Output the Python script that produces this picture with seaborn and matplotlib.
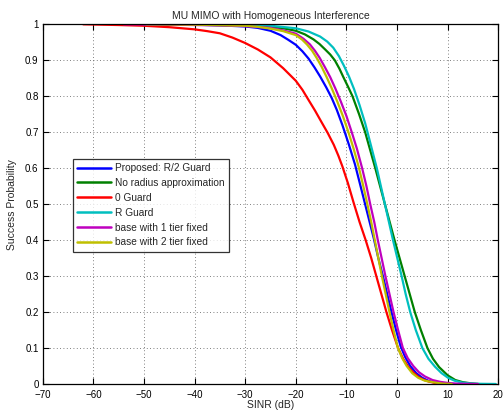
import pandas as pd
import numpy as np
import matplotlib
matplotlib.use("Agg")
import matplotlib.pyplot as plt
import seaborn as sns

# values
blue_x = [-50, -40, -35, -30, -27.5, -25, -23, -21.5, -20, -18.7, -17.5, -16.3, -15.2, -14, -12.9, -11.9, -10.8,
          -9.5, -8.3, -7.3, -6.4, -5.5, -4.6, -3.7, -2.8, -1.95, -1.1, -0.2, 0.7, 1.6, 2.6, 3.8, 5, 6.3, 7.8, 9.5]
blue_y = [1.0, 0.999, 0.997, 0.994, 0.99, 0.982, 0.97, 0.957, 0.943, 0.925, 0.905, 0.88, 0.855, 0.825, 0.795, 0.762, 0.72,
          0.665, 0.61, 0.555, 0.505, 0.455, 0.405, 0.35, 0.3, 0.25, 0.2, 0.15, 0.105, 0.075, 0.05, 0.03, 0.017, 0.008, 0.003, 0.0]

green_x = [-50, -40, -30, -25, -22.5, -20, -18.2, -16.5, -15.3, -14.2, -13.2, -12.3, -11.4, -10.6, -9.7, -8.8, -7.5,
           -6.3, -5.3, -4.3, -3.35, -2.4, -1.45, -0.5, 0.5, 1.5, 2.5, 3.5, 4.7, 6.0, 7.1, 8.3, 10, 11.5, 13, 14.5, 16]
green_y = [1.0, 0.999, 0.997, 0.993, 0.989, 0.982, 0.972, 0.958, 0.945, 0.93, 0.916, 0.9, 0.877, 0.853, 0.827, 0.8, 0.75,
           0.7, 0.65, 0.6, 0.55, 0.5, 0.45, 0.4, 0.35, 0.3, 0.25, 0.2, 0.15, 0.1, 0.07, 0.047, 0.024, 0.011, 0.005, 0.002, 0.0]

red_x = [-62, -55, -50, -45, -40, -37.5, -35, -32.5, -30, -27.5, -25, -22.5, -20, -18.7, -17.5, -16.2, -15, -13.7,
         -12.5, -11.6, -10.8, -9.7, -8.6, -7.4, -6.2, -5.1, -4.1, -3.1, -2.1, -1.0, 0.2, 1.2, 2.2, 3.2, 4.2, 5.2, 6.2, 7.5, 8.8]
red_y = [1.0, 0.998, 0.996, 0.992, 0.986, 0.981, 0.975, 0.963, 0.948, 0.93, 0.908, 0.878, 0.843, 0.818, 0.79, 0.76, 0.73, 0.698,
         0.665, 0.635, 0.605, 0.558, 0.505, 0.45, 0.4, 0.35, 0.3, 0.25, 0.2, 0.15, 0.1, 0.07, 0.048, 0.032, 0.02, 0.012, 0.007, 0.003, 0.0]

cyan_x = [-50, -40, -30, -25, -20, -17.5, -15.2, -13.8, -12.6, -11.5, -10.5, -9.5, -8.5, -7.4, -6.3, -5.1, -4.0, -3.2,
          -2.4, -1.6, -0.8, 0.05, 0.9, 1.7, 2.6, 3.7, 5.0, 6.2, 7.5, 8.8, 10.1, 11.4, 12.8, 14.5, 16.5, 19.5]
cyan_y = [1.0, 0.999, 0.998, 0.996, 0.989, 0.98, 0.966, 0.952, 0.935, 0.912, 0.885, 0.855, 0.82, 0.775, 0.725, 0.66, 0.6, 0.55,
          0.5, 0.45, 0.4, 0.35, 0.3, 0.25, 0.2, 0.15, 0.1, 0.07, 0.048, 0.03, 0.017, 0.009, 0.004, 0.0015, 0.0005, 0.0]

magenta_x = [-54, -45, -35, -30, -25, -22.5, -20, -18.5, -17.2, -16.2, -15.3, -14.3, -13.2, -12.2, -11.1, -10.0, -8.95,
             -7.95, -6.9, -6.05, -5.3, -4.5, -3.8, -3.05, -2.3, -1.5, -0.7, 0.2, 1.15, 2.1, 3.2, 4.3, 5.5, 7, 8.5, 10, 11.8, 16]
magenta_y = [1.0, 0.999, 0.997, 0.995, 0.99, 0.983, 0.974, 0.96, 0.944, 0.926, 0.907, 0.882, 0.853, 0.822, 0.785, 0.745, 0.7,
             0.655, 0.6, 0.55, 0.5, 0.45, 0.4, 0.35, 0.3, 0.25, 0.2, 0.15, 0.1, 0.072, 0.05, 0.033, 0.021, 0.011, 0.006, 0.003, 0.001, 0.0]

yellow_x = [-49.5, -40, -30, -27.5, -25, -22.5, -20, -18.8, -17.8, -16.8, -15.9, -14.9, -13.9, -12.9, -11.8, -10.7,
            -9.6, -8.6, -7.6, -6.7, -5.9, -5.1, -4.4, -3.7, -3.0, -2.25, -1.5, -0.7, 0.1, 1.0, 1.9, 3.0, 4.2, 5.5, 7.5, 9, 10.8]
yellow_y = [1.0, 0.999, 0.996, 0.993, 0.988, 0.981, 0.97, 0.958, 0.944, 0.927, 0.907, 0.882, 0.853, 0.822, 0.785, 0.745,
            0.7, 0.655, 0.605, 0.552, 0.502, 0.45, 0.4, 0.35, 0.3, 0.25, 0.2, 0.15, 0.103, 0.072, 0.05, 0.03, 0.017, 0.009, 0.004, 0.001, 0.0]

labels = ["Proposed: R/2 Guard", "No radius approximation", "0 Guard", "R Guard",
          "base with 1 tier fixed", "base with 2 tier fixed"]
colors = [(0, 0, 1), (0, 0.5, 0), (1, 0, 0), (0, 0.75, 0.75), (0.75, 0, 0.75), (0.75, 0.75, 0)]
xs = [blue_x, green_x, red_x, cyan_x, magenta_x, yellow_x]
ys = [blue_y, green_y, red_y, cyan_y, magenta_y, yellow_y]

frames = []
for lab, x, y in zip(labels, xs, ys):
    frames.append(pd.DataFrame({"sinr": x, "p": y, "curve": lab}))
df = pd.concat(frames, ignore_index=True)

sns.set_style("ticks")
plt.rcParams["font.family"] = ["Liberation Sans", "DejaVu Sans"]
plt.rcParams["axes.unicode_minus"] = True

fig = plt.figure(figsize=(5.04, 4.12), dpi=100)
ax = fig.add_axes([0.0847, 0.068, 0.904, 0.873])

sns.lineplot(data=df, x="sinr", y="p", hue="curve", hue_order=labels,
             palette=colors, estimator=None, sort=False, linewidth=1.6, ax=ax)

ax.set_xlim(-70, 20)
ax.set_ylim(0, 1)
ax.set_xticks(np.arange(-70, 21, 10))
ax.set_yticks(np.arange(0, 1.01, 0.1))
ax.set_yticklabels(["0", "0.1", "0.2", "0.3", "0.4", "0.5", "0.6", "0.7", "0.8", "0.9", "1"])
ax.grid(True, linestyle=(0, (1, 3)), color="#555555", linewidth=0.6)
ax.tick_params(direction="in", length=4, width=0.8, top=True, right=True,
               labelsize=7, colors="black")
ax.tick_params(axis="x", pad=4)
ax.tick_params(axis="y", pad=3)
for s in ax.spines.values():
    s.set_linewidth(0.9)
    s.set_color("black")

ax.set_title("MU MIMO with Homogeneous Interference", fontsize=7.5, pad=4)
ax.set_xlabel("SINR (dB)", fontsize=7.5, labelpad=0)
ax.set_ylabel("Success Probability", fontsize=7.5, labelpad=6)

leg = ax.legend(loc="lower left", bbox_to_anchor=(0.066, 0.367), fontsize=7.3,
                frameon=True, fancybox=False, handlelength=3.3, handletextpad=0.4,
                labelspacing=0.48, borderpad=0.45, borderaxespad=0)
leg.get_frame().set_edgecolor("black")
leg.get_frame().set_linewidth(0.9)
for line in leg.get_lines():
    line.set_linewidth(1.8)

fig.savefig("out.png", dpi=100)
